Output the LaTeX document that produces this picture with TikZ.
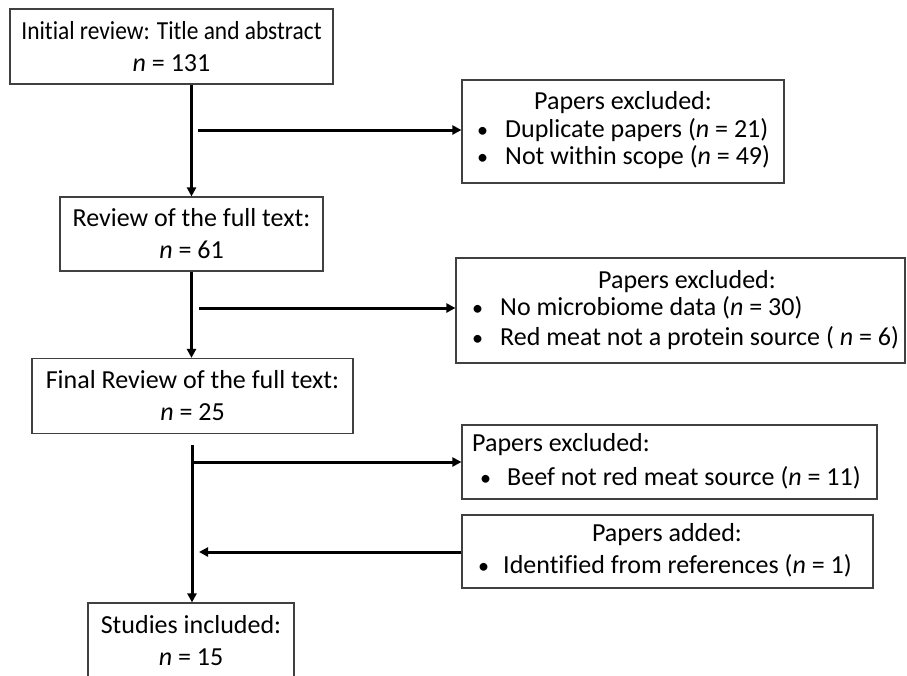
\documentclass[tikz,border=0pt]{standalone}
\usepackage{fontspec}
\setmainfont{Carlito}[Ligatures={NoCommon}]
\usetikzlibrary{arrows.meta}
\newcommand{\bul}[1]{\makebox[#1][l]{\scalebox{0.85}{•}}}
\begin{document}
\begin{tikzpicture}[x=1pt,y=-1pt,
  box/.style={draw=black!75, line width=1.2pt, rectangle, inner sep=0pt, align=center, font=\fontsize{26}{32}\selectfont},
  txt/.style={inner sep=0pt, font=\fontsize{26}{30}\selectfont},
  arr/.style={line width=3pt, -{Triangle[length=9pt,width=9pt]}}]
\useasboundingbox (0,0) rectangle (907,675);
\clip (0,0) rectangle (907,675);
% main column
\node[box, minimum width=323pt, minimum height=75pt] (A) at (171.5,46.5) {\scalebox{0.9}[1]{Initial review: Title and abstract}\\\textit{n} = 131};
\node[box, minimum width=263pt, minimum height=74pt] (B) at (191.5,234) {Review of the full text:\\\textit{n} = 61};
\node[box, minimum width=321pt, minimum height=75pt] (C) at (192.5,396) {Final Review of the full text:\\\textit{n} = 25};
\node[box, minimum width=206pt, minimum height=75pt] (D) at (191,640.5) {Studies included:\\\textit{n} = 15};
% side boxes
\node[box, minimum width=322pt, minimum height=103pt] (E1) at (623,131.5) {};
\node[txt] (E1t) at (623,103) {Papers excluded:};
\node[txt, anchor=west] (E1a) at (477,130) {\bul{28pt}Duplicate papers (\textit{n} = 21)};
\node[txt, anchor=west] (E1b) at (477,157) {\bul{28pt}Not within scope (\textit{n} = 49)};
\node[box, minimum width=449pt, minimum height=105pt] (E2) at (680.5,310.5) {};
\node[txt] (E2t) at (687,282) {Papers excluded:};
\node[txt, anchor=west] (E2a) at (472,308) {\bul{28pt}No microbiome data (\textit{n} = 30)};
\node[txt, anchor=west] (E2b) at (472,338) {\bul{28pt}Red meat not a protein source ( \textit{n} = 6)};
\node[box, minimum width=415pt, minimum height=74pt] (E3) at (669.5,462) {};
\node[txt, anchor=west] (E3t) at (472,445) {Papers excluded:};
\node[txt, anchor=west] (E3a) at (480,478) {\bul{27pt}Beef not red meat source (\textit{n} = 11)};
\node[box, minimum width=411pt, minimum height=73pt] (E4) at (667.5,551.5) {};
\node[txt] (E4t) at (667,535) {Papers added:};
\node[txt, anchor=west] (E4a) at (478,566) {\bul{25pt}Identified from references (\textit{n} = 1)};
% connectors
\coordinate (h1) at (198,130);
\coordinate (h2) at (199,308);
\coordinate (c1) at (192,445);
\coordinate (h3) at (192,462);
\coordinate (h4) at (199,552);
\draw[arr] (A.south -| B.north) -- (B.north);
\draw[arr] (B.south) -- (B.south |- C.north);
\draw[arr] (c1) -- (c1 |- D.north);
\draw[arr] (h1) -- (h1 -| E1.west);
\draw[arr] (h2) -- (h2 -| E2.west);
\draw[arr] (h3) -- (h3 -| E3.west);
\draw[arr] (h4 -| E4.west) -- (h4);
\end{tikzpicture}
\end{document}
